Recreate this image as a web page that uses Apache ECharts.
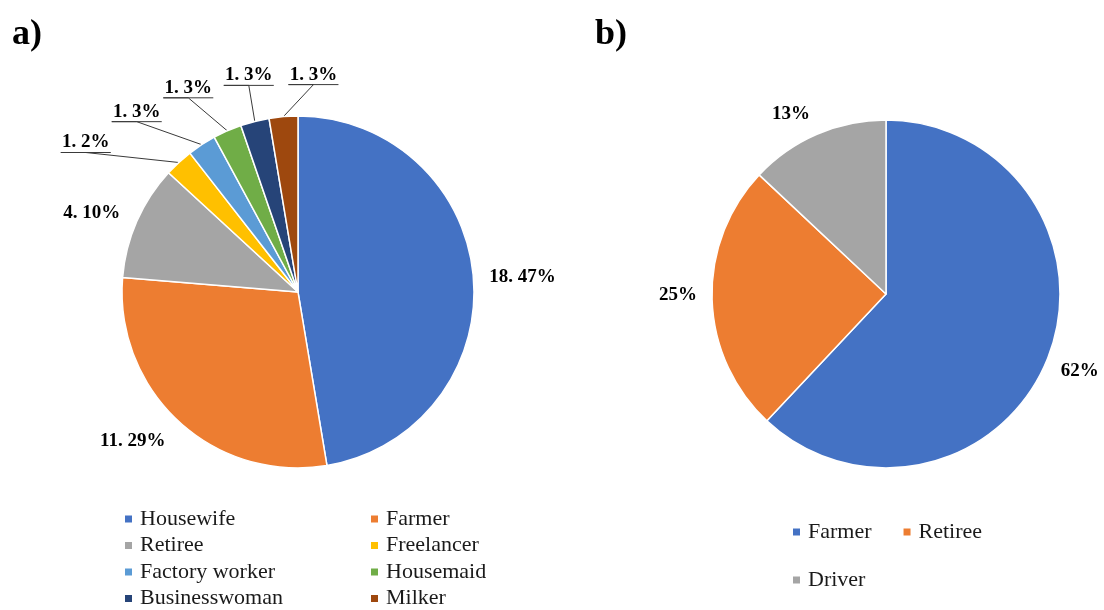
<!DOCTYPE html>
<html>
<head>
<meta charset="utf-8">
<script src="https://cdn.jsdelivr.net/npm/echarts@6/dist/echarts.min.js"></script>
<style>
  html, body { margin: 0; padding: 0; background: #fff; }
  #chart { width: 1104px; height: 610px; }
</style>
</head>
<body>
<div id="chart"></div>
<script>
// a) occupations of respondents: counts and the percentages printed beside them
const occupationsA = ['Housewife', 'Farmer', 'Retiree', 'Freelancer', 'Factory worker', 'Housemaid', 'Businesswoman', 'Milker'];
const countsA = [18, 11, 4, 1, 1, 1, 1, 1];
const percentLabelsA = [47, 29, 10, 2, 3, 3, 3, 3];

// b) occupations, percentage shares
const occupationsB = ['Farmer', 'Retiree', 'Driver'];
const percentsB = [62, 25, 13];

const colorsA = ['#4472C4', '#ED7D31', '#A5A5A5', '#FFC000', '#5B9BD5', '#70AD47', '#264478', '#9E480E'];
const colorsB = ['#4472C4', '#ED7D31', '#A5A5A5'];

// label placement relative to the slice's outer mid point; leader = true draws an underlined callout
const labelPlaceA = [
  { dx: 49, dy: 0, leader: false },
  { dx: -46, dy: 20, leader: false },
  { dx: -45, dy: -8, leader: false },
  { dx: -93, dy: -20, leader: true },
  { dx: -65, dy: -33, leader: true },
  { dx: -39, dy: -43, leader: true },
  { dx: -6, dy: -46, leader: true },
  { dx: 30, dy: -42, leader: true }
];
const labelPlaceB = [
  { dx: 32, dy: 13 },
  { dx: -34, dy: -4 },
  { dx: -26, dy: -20 }
];

const SERIF = '"Liberation Serif", "Times New Roman", serif';
const UNDERLINE_DROP = 10;
const UNDERLINE_HALF = 25;

const chart = echarts.init(document.getElementById('chart'), null, { renderer: 'canvas' });

function legendData(names, colors) {
  return names.map(n => ({ name: n.name, itemStyle: { color: colors[n.idx] } }));
}
function pick(names, idxs) {
  return idxs.map(i => ({ name: names[i], idx: i }));
}

const legendText = { fontFamily: SERIF, fontSize: 22, color: '#1a1a1a', lineHeight: 22, padding: [0, 0, 0, 2] };
const legendBase = { icon: 'rect', itemWidth: 9, itemHeight: 9, selectedMode: false, padding: 0, textStyle: legendText };

chart.setOption({
  animation: false,
  backgroundColor: '#ffffff',
  title: [
    { text: 'a)', left: 12, top: 17, padding: 0, textStyle: { fontFamily: SERIF, fontSize: 36, fontWeight: 'bold', color: '#000' } },
    { text: 'b)', left: 595, top: 17, padding: 0, textStyle: { fontFamily: SERIF, fontSize: 36, fontWeight: 'bold', color: '#000' } }
  ],
  legend: [
    Object.assign({}, legendBase, { orient: 'vertical', left: 123, top: 508, itemGap: 4.5,
      data: legendData(pick(occupationsA, [0, 2, 4, 6]), colorsA) }),
    Object.assign({}, legendBase, { orient: 'vertical', left: 369, top: 508, itemGap: 4.5,
      data: legendData(pick(occupationsA, [1, 3, 5, 7]), colorsA) }),
    Object.assign({}, legendBase, { orient: 'horizontal', left: 791, top: 521, itemGap: 30,
      data: legendData(pick(occupationsB, [0, 1]), colorsB) }),
    Object.assign({}, legendBase, { orient: 'horizontal', left: 791, top: 569, itemGap: 30,
      data: legendData(pick(occupationsB, [2]), colorsB) })
  ],
  series: [
    {
      type: 'pie',
      center: [298, 292],
      radius: 176,
      startAngle: 90,
      clockwise: true,
      avoidLabelOverlap: false,
      itemStyle: { borderColor: '#ffffff', borderWidth: 1.5 },
      label: {
        show: true, position: 'outside',
        fontFamily: SERIF, fontSize: 19, fontWeight: 'bold', color: '#000',
        formatter: p => countsA[p.dataIndex] + '. ' + percentLabelsA[p.dataIndex] + '%'
      },
      labelLine: { show: true, length: 10, length2: 10, lineStyle: { color: '#3a3a3a', width: 1 } },
      labelLayout: function (params) {
        const place = labelPlaceA[params.dataIndex];
        const pts = params.labelLinePoints;
        if (!pts) return {};
        const x = pts[0][0] + place.dx;
        const y = pts[0][1] + place.dy;
        const out = { x: x, y: y, align: 'center', verticalAlign: 'middle' };
        if (place.leader) {
          const uy = y + UNDERLINE_DROP;
          out.labelLinePoints = [pts[0], [x, uy], [x - UNDERLINE_HALF, uy], [x + UNDERLINE_HALF, uy]];
        } else {
          out.labelLinePoints = [pts[0], pts[0]];
        }
        return out;
      },
      data: occupationsA.map((n, i) => ({
        name: n,
        value: countsA[i],
        itemStyle: { color: colorsA[i] },
        labelLine: labelPlaceA[i].leader ? {} : { lineStyle: { opacity: 0 } }
      }))
    },
    {
      type: 'pie',
      center: [886, 294],
      radius: 174,
      startAngle: 90,
      clockwise: true,
      avoidLabelOverlap: false,
      itemStyle: { borderColor: '#ffffff', borderWidth: 1.5 },
      label: {
        show: true, position: 'outside',
        fontFamily: SERIF, fontSize: 19, fontWeight: 'bold', color: '#000',
        formatter: p => percentsB[p.dataIndex] + '%'
      },
      labelLine: { show: true, length: 10, length2: 10, lineStyle: { opacity: 0 } },
      labelLayout: function (params) {
        const place = labelPlaceB[params.dataIndex];
        const pts = params.labelLinePoints;
        if (!pts) return {};
        return {
          x: pts[0][0] + place.dx, y: pts[0][1] + place.dy,
          align: 'center', verticalAlign: 'middle',
          labelLinePoints: [pts[0], pts[0]]
        };
      },
      data: occupationsB.map((n, i) => ({ name: n, value: percentsB[i], itemStyle: { color: colorsB[i] } }))
    }
  ]
});
</script>
</body>
</html>
